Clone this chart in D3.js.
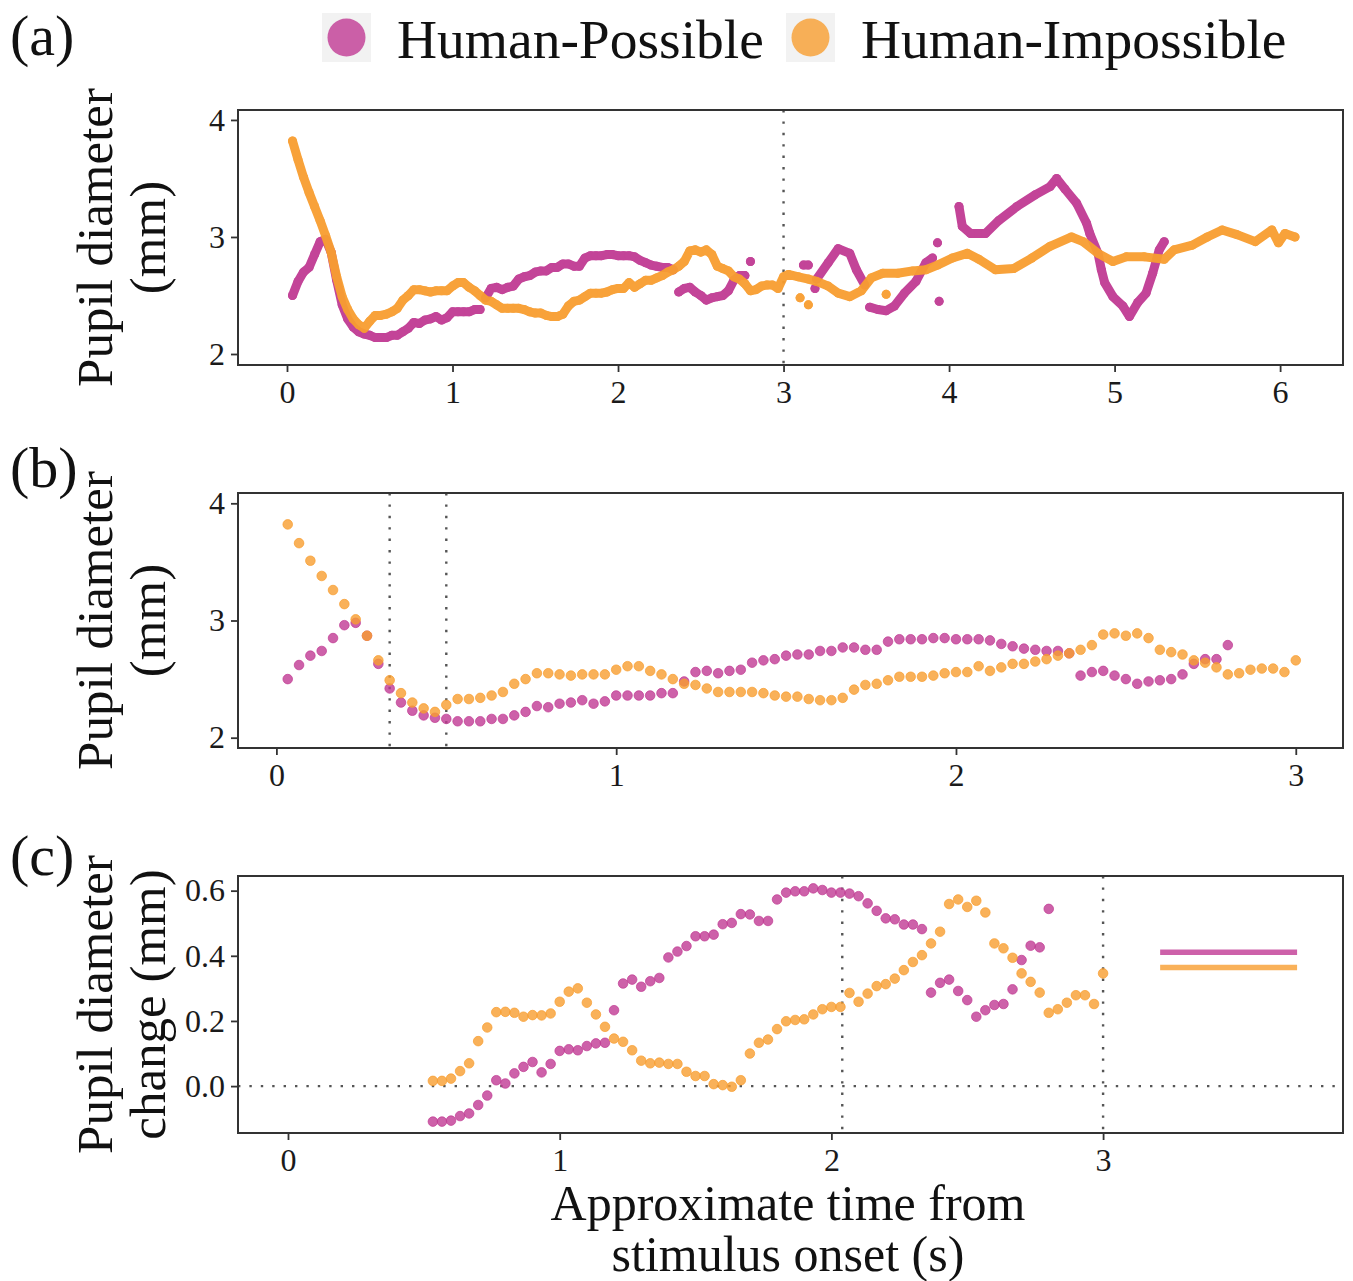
<!DOCTYPE html>
<html>
<head>
<meta charset="utf-8">
<script src="https://cdn.jsdelivr.net/npm/d3@7"></script>
<style>
  body { margin: 0; background: #fff; }
  svg { font-family: "Liberation Serif", "Times New Roman", serif; }
</style>
</head>
<body>
<svg></svg>
<script>
// series are sampled at 30 Hz; sample k sits at t = k / 30 s
var step = 1 / 30;

var groups = ["Human-Possible", "Human-Impossible"];
var colors = ["#C03A93", "#F89E30"];

// panel (b): pupil diameter (mm), samples k = 1 ..
var possibleB = [2.50, 2.62, 2.70, 2.74, 2.85, 2.96, 2.98, 2.87, 2.63, 2.42,
  2.30, 2.23, 2.19, 2.17, 2.16, 2.14, 2.14, 2.14, 2.16, 2.16,
  2.19, 2.22, 2.27, 2.26, 2.29, 2.30, 2.32, 2.29, 2.31, 2.36,
  2.36, 2.36, 2.36, 2.38, 2.38, 2.48, 2.56, 2.57, 2.55, 2.57,
  2.58, 2.64, 2.66, 2.67, 2.70, 2.71, 2.71, 2.74, 2.74, 2.77,
  2.77, 2.75, 2.75, 2.82, 2.84, 2.84, 2.84, 2.85, 2.85, 2.84,
  2.84, 2.84, 2.83, 2.80, 2.78, 2.76, 2.75, 2.74, 2.74, 2.72,
  2.53, 2.56, 2.57, 2.53, 2.50, 2.46, 2.48, 2.49, 2.50, 2.54,
  2.63, 2.67, 2.67, 2.79];
var impossibleB = [3.82, 3.66, 3.51, 3.38, 3.26, 3.14, 3.01, 2.87, 2.66, 2.49,
  2.38, 2.30, 2.25, 2.22, 2.28, 2.33, 2.33, 2.34, 2.36, 2.39,
  2.46, 2.50, 2.55, 2.55, 2.54, 2.53, 2.54, 2.54, 2.54, 2.58,
  2.61, 2.61, 2.57, 2.54, 2.50, 2.46, 2.45, 2.42, 2.39, 2.39,
  2.39, 2.39, 2.38, 2.36, 2.35, 2.35, 2.33, 2.32, 2.32, 2.34,
  2.41, 2.45, 2.46, 2.49, 2.52, 2.52, 2.52, 2.53, 2.55, 2.56,
  2.56, 2.61, 2.57, 2.60, 2.63, 2.63, 2.65, 2.67, 2.70, 2.72,
  2.75, 2.79, 2.88, 2.89, 2.87, 2.89, 2.85, 2.75, 2.73, 2.71,
  2.66, 2.64, 2.60, 2.54, 2.55, 2.58, 2.59, 2.59, 2.56, 2.66];

// panel (a): the same trace, continued after 3 s ([t, mm], null = gap)
var possibleLateA = [
  [3.12, 2.76], [3.15, 2.76], null,
  [3.19, 2.56], null,
  [3.20, 2.64], [3.27, 2.78], [3.33, 2.90], [3.40, 2.86], [3.44, 2.72], [3.49, 2.59], null,
  [3.52, 2.40], [3.57, 2.38], [3.62, 2.37], [3.67, 2.41], [3.73, 2.52], [3.80, 2.62],
  [3.86, 2.78], [3.90, 2.82], null,
  [3.93, 2.95], null, [3.94, 2.45], null,
  [4.06, 3.26], [4.08, 3.09], [4.13, 3.03], [4.22, 3.03], [4.30, 3.14], [4.41, 3.26],
  [4.52, 3.36], [4.61, 3.43], [4.65, 3.50], [4.70, 3.41], [4.77, 3.29], [4.83, 3.12],
  [4.85, 3.03], [4.90, 2.86], [4.92, 2.72], [4.94, 2.61], [4.99, 2.49], [5.05, 2.41],
  [5.09, 2.32], [5.14, 2.44], [5.19, 2.52], [5.23, 2.69], [5.27, 2.89], [5.30, 2.96]
];
var impossibleLateA = [
  [3.03, 2.68], [3.09, 2.66], [3.15, 2.64], [3.20, 2.62], [3.27, 2.58], [3.33, 2.52],
  [3.40, 2.49], [3.47, 2.54], [3.53, 2.65], [3.60, 2.69], [3.69, 2.69], [3.78, 2.71],
  [3.86, 2.72], [3.93, 2.76], [4.02, 2.82], [4.11, 2.86], [4.18, 2.81], [4.28, 2.72],
  [4.39, 2.73], [4.50, 2.82], [4.61, 2.92], [4.74, 3.00], [4.81, 2.96], [4.90, 2.86],
  [4.99, 2.79], [5.07, 2.83], [5.18, 2.83], [5.30, 2.81], [5.36, 2.89], [5.47, 2.93],
  [5.56, 3.00], [5.65, 3.06], [5.74, 3.02], [5.85, 2.96], [5.95, 3.06], [5.99, 2.95],
  [6.03, 3.03], [6.09, 3.00], null,
  [3.10, 2.48], null, [3.15, 2.42], null, [3.62, 2.51]
];
// times before which the early part of the (a) trace is broken
var possibleBreaksA = [1.19, 2.35, 2.79];
var impossibleBreaksA = [];

// panel (c): pupil diameter change (mm), samples k = 16 ..
var firstSampleC = 16;
var possibleC = [-0.109, -0.109, -0.106, -0.092, -0.084, -0.058, -0.029, 0.018, 0.008, 0.039,
  0.059, 0.074, 0.042, 0.068, 0.108, 0.113, 0.110, 0.123, 0.131, 0.133,
  0.233, 0.315, 0.327, 0.305, 0.322, 0.332, 0.395, 0.413, 0.430, 0.460,
  0.460, 0.465, 0.497, 0.501, 0.528, 0.527, 0.507, 0.507, 0.573, 0.594,
  0.598, 0.598, 0.607, 0.602, 0.594, 0.594, 0.591, 0.583, 0.561, 0.538,
  0.515, 0.512, 0.496, 0.496, 0.482, 0.287, 0.317, 0.327, 0.292, 0.264,
  0.213, 0.233, 0.249, 0.252, 0.297, 0.387, 0.431, 0.426, 0.544];
var impossibleC = [0.016, 0.016, 0.023, 0.046, 0.070, 0.138, 0.180, 0.227, 0.228, 0.225,
  0.213, 0.218, 0.217, 0.223, 0.259, 0.290, 0.300, 0.256, 0.220, 0.182,
  0.146, 0.136, 0.110, 0.078, 0.070, 0.072, 0.068, 0.068, 0.044, 0.031,
  0.031, 0.006, 0.003, -0.002, 0.018, 0.100, 0.133, 0.143, 0.175, 0.199,
  0.203, 0.205, 0.220, 0.236, 0.243, 0.243, 0.286, 0.259, 0.284, 0.307,
  0.313, 0.330, 0.356, 0.381, 0.402, 0.438, 0.474, 0.559, 0.573, 0.550,
  0.569, 0.533, 0.438, 0.423, 0.394, 0.346, 0.320, 0.287, 0.225, 0.236,
  0.256, 0.279, 0.279, 0.252, 0.346];
var meanLineC = [0.411, 0.364];
var meanSpanC = [3.21, 3.714];

// axes, ticks, reference lines
var xTicksA = [0, 1, 2, 3, 4, 5, 6];
var xTicksB = [0, 1, 2, 3];
var xTicksC = [0, 1, 2, 3];
var yTicksAB = [2, 3, 4];
var yTicksC = [0, 0.2, 0.4, 0.6];
var vLinesA = [3];
var vLinesB = [1 / 3, 0.5];
var vLinesC = [2.04, 3];
var hLinesC = [0];

var svg = d3.select("svg").attr("width", 1353).attr("height", 1281);
var left = 238, right = 1343;

function toPoints(values, first) {
  return values.map(function (v, i) { return [(i + first) * step, v]; });
}

function withBreaks(pts, breaks) {
  var out = [];
  pts.forEach(function (p, i) {
    if (i > 0 && breaks.some(function (b) { return pts[i - 1][0] < b && p[0] >= b; })) out.push(null);
    out.push(p);
  });
  return out;
}

function panel(o) {
  var x = d3.scaleLinear().domain(o.xDomain).range([left, right]);
  var y = d3.scaleLinear().domain(o.yDomain).range([o.bottom, o.top]);
  var g = svg.append("g");

  // dotted guides
  g.selectAll(".vline").data(o.vLines).enter().append("line")
    .attr("x1", function (d) { return x(d); }).attr("x2", function (d) { return x(d); })
    .attr("y1", o.top).attr("y2", o.bottom)
    .attr("stroke", "#555").attr("stroke-width", 2.4).attr("stroke-dasharray", "2.4,9");
  g.selectAll(".hline").data(o.hLines || []).enter().append("line")
    .attr("x1", left).attr("x2", right)
    .attr("y1", function (d) { return y(d); }).attr("y2", function (d) { return y(d); })
    .attr("stroke", "#555").attr("stroke-width", 2.4).attr("stroke-dasharray", "2.4,9");

  o.draw(g, x, y);

  // ticks
  var xa = g.append("g").attr("transform", "translate(0," + o.bottom + ")")
    .call(d3.axisBottom(x).tickValues(o.xTicks).tickSize(7).tickPadding(8).tickFormat(d3.format("d")));
  var ya = g.append("g").attr("transform", "translate(" + left + ",0)")
    .call(d3.axisLeft(y).tickValues(o.yTicks).tickSize(7).tickPadding(6).tickFormat(o.yFormat));
  [xa, ya].forEach(function (a) {
    a.attr("font-family", null).attr("font-size", null);
    a.select(".domain").remove();
    a.selectAll("line").attr("stroke", "#333").attr("stroke-width", 1.8);
    a.selectAll("text").attr("font-size", 32).attr("fill", "#1a1a1a");
  });

  g.append("rect").attr("x", left).attr("y", o.top)
    .attr("width", right - left).attr("height", o.bottom - o.top)
    .attr("fill", "none").attr("stroke", "#333").attr("stroke-width", 2);

  // y title (two lines)
  var yc = (o.top + o.bottom) / 2;
  o.yTitle.forEach(function (t, i) {
    svg.append("text")
      .attr("transform", "translate(" + (112 + i * 53) + "," + yc + ") rotate(-90)")
      .attr("text-anchor", "middle").attr("font-size", 51).attr("fill", "#111")
      .text(t);
  });

  svg.append("text").attr("x", 10).attr("y", o.labelY)
    .attr("font-size", 58).attr("fill", "#111").text(o.label);
}

function dots(g, pts, color, x, y) {
  g.selectAll(null).data(pts).enter().append("circle")
    .attr("cx", function (d) { return x(d[0]); })
    .attr("cy", function (d) { return y(d[1]); })
    .attr("r", 4.8)
    .attr("fill", color).attr("fill-opacity", 0.8)
    .attr("stroke", color).attr("stroke-opacity", 0.9).attr("stroke-width", 0.8);
}

// (a) full trace
var traceA = [
  withBreaks(toPoints(possibleB, 1), possibleBreaksA).concat([null], possibleLateA),
  withBreaks(toPoints(impossibleB, 1), impossibleBreaksA).concat(impossibleLateA)
];

panel({
  top: 110, bottom: 365, xDomain: [-0.296, 6.38], yDomain: [1.906, 4.085],
  xTicks: xTicksA, yTicks: yTicksAB, yFormat: d3.format("d"),
  vLines: vLinesA, yTitle: ["Pupil diameter", "(mm)"], label: "(a)", labelY: 55,
  draw: function (g, x, y) {
    var line = d3.line().defined(function (d) { return d; })
      .x(function (d) { return x(d[0]); }).y(function (d) { return y(d[1]); });
    traceA.forEach(function (pts, i) {
      var s = g.append("g").attr("opacity", 0.95);
      s.append("path").attr("d", line(pts)).attr("fill", "none")
        .attr("stroke", colors[i]).attr("stroke-width", 9)
        .attr("stroke-linecap", "round").attr("stroke-linejoin", "round");
      s.selectAll("circle").data(pts.filter(function (d) { return d; })).enter().append("circle")
        .attr("cx", function (d) { return x(d[0]); }).attr("cy", function (d) { return y(d[1]); })
        .attr("r", 4.5).attr("fill", colors[i]);
    });
  }
});

panel({
  top: 493, bottom: 748, xDomain: [-0.113, 3.139], yDomain: [1.912, 4.088],
  xTicks: xTicksB, yTicks: yTicksAB, yFormat: d3.format("d"),
  vLines: vLinesB, yTitle: ["Pupil diameter", "(mm)"], label: "(b)", labelY: 487,
  draw: function (g, x, y) {
    dots(g, toPoints(possibleB, 1), colors[0], x, y);
    dots(g, toPoints(impossibleB, 1), colors[1], x, y);
  }
});

panel({
  top: 876, bottom: 1133, xDomain: [-0.184, 3.883], yDomain: [-0.144, 0.645],
  xTicks: xTicksC, yTicks: yTicksC, yFormat: d3.format(".1f"),
  vLines: vLinesC, hLines: hLinesC, yTitle: ["Pupil diameter", "change (mm)"], label: "(c)", labelY: 875,
  draw: function (g, x, y) {
    dots(g, toPoints(possibleC, firstSampleC), colors[0], x, y);
    dots(g, toPoints(impossibleC, firstSampleC), colors[1], x, y);
    g.selectAll(".mean").data(meanLineC).enter().append("line")
      .attr("x1", x(meanSpanC[0])).attr("x2", x(meanSpanC[1]))
      .attr("y1", function (d) { return y(d); }).attr("y2", function (d) { return y(d); })
      .attr("stroke", function (d, i) { return colors[i]; })
      .attr("stroke-opacity", 0.8).attr("stroke-width", 5.5);
  }
});

// x title
["Approximate time from", "stimulus onset (s)"].forEach(function (t, i) {
  svg.append("text").attr("x", 788).attr("y", 1220 + i * 51)
    .attr("text-anchor", "middle").attr("font-size", 50).attr("fill", "#111").text(t);
});

// legend
var legendX = [322, 786];
groups.forEach(function (name, i) {
  var lg = svg.append("g").attr("transform", "translate(" + legendX[i] + ",13)");
  lg.append("rect").attr("width", 49).attr("height", 49).attr("fill", "#F2F2F2");
  lg.append("circle").attr("cx", 24.5).attr("cy", 24.5).attr("r", 19)
    .attr("fill", colors[i]).attr("fill-opacity", 0.8);
  lg.append("text").attr("x", 75).attr("y", 45).attr("font-size", 55.5)
    .attr("fill", "#111").text(name);
});
</script>
</body>
</html>
